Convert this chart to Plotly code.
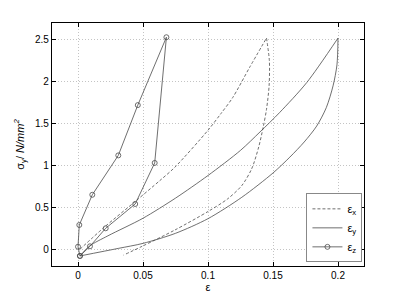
import plotly.graph_objects as go

# eps_x (dashed): loading then unloading
ex_load_x = [0.0015, 0.02, 0.044, 0.063, 0.0746, 0.1, 0.11, 0.119, 0.132, 0.145]
ex_load_s = [0.0, 0.26, 0.57, 0.82, 0.98, 1.42, 1.62, 1.81, 2.17, 2.52]
ex_unl_x = [0.145, 0.1472, 0.147, 0.145, 0.1425, 0.139, 0.1336, 0.126, 0.115, 0.1, 0.0746, 0.05, 0.035]
ex_unl_s = [2.52, 2.25, 1.95, 1.67, 1.46, 1.22, 0.96, 0.76, 0.6, 0.45, 0.23, 0.04, -0.07]

# eps_y (solid)
ey_load_x = [0.0015, 0.009, 0.023, 0.05, 0.075, 0.1, 0.125, 0.14, 0.155, 0.176, 0.2]
ey_load_s = [-0.08, 0.04, 0.16, 0.37, 0.61, 0.88, 1.18, 1.40, 1.63, 1.99, 2.52]
ey_unl_x = [0.2, 0.1992, 0.1962, 0.191, 0.1836, 0.174, 0.163, 0.15, 0.126, 0.1, 0.075, 0.05, 0.031, 0.0015]
ey_unl_s = [2.52, 2.2, 1.95, 1.69, 1.47, 1.28, 1.10, 0.91, 0.62, 0.365, 0.19, 0.07, 0.01, -0.08]

# eps_z (solid with circles)
ez_x = [0.0015, 0.0, 0.001, 0.011, 0.031, 0.046, 0.068, 0.059, 0.044, 0.0213, 0.0092, 0.0015]
ez_s = [-0.08, 0.03, 0.29, 0.65, 1.12, 1.72, 2.53, 1.03, 0.54, 0.25, 0.035, -0.08]

x_ticks = [0, 0.05, 0.1, 0.15, 0.2]
y_ticks = [0, 0.5, 1, 1.5, 2, 2.5]

col = "#4a4a4a"
fig = go.Figure()
fig.add_trace(go.Scatter(x=ex_load_x + [None] + ex_unl_x, y=ex_load_s + [None] + ex_unl_s, mode="lines",
                         line=dict(color=col, width=0.8, dash="3px,2px", shape="spline", smoothing=0.8),
                         connectgaps=False, name="ε<sub>x</sub>"))
fig.add_trace(go.Scatter(x=ey_load_x + [None] + ey_unl_x, y=ey_load_s + [None] + ey_unl_s, mode="lines",
                         line=dict(color=col, width=0.8, shape="spline", smoothing=0.8),
                         connectgaps=False, name="ε<sub>y</sub>"))
fig.add_trace(go.Scatter(x=ez_x, y=ez_s, mode="lines+markers",
                         line=dict(color=col, width=0.8),
                         marker=dict(symbol="circle-open", size=5, color=col, line=dict(width=0.8)),
                         name="ε<sub>z</sub>"))

axis_common = dict(showline=True, linecolor="black", linewidth=1.2, mirror="allticks",
                   ticks="inside", ticklen=4, tickcolor="black", showgrid=True,
                   gridcolor="#c4c4c4", griddash="1px,2px", gridwidth=1, zeroline=False,
                   automargin=False, tickfont=dict(size=10, color="black"))
fig.update_xaxes(range=[-0.02, 0.22], tickvals=x_ticks, ticktext=["0", "0.05", "0.1", "0.15", "0.2"],
                 title=dict(text="ε", font=dict(size=11), standoff=2), **axis_common)
fig.update_yaxes(range=[-0.2, 2.7], tickvals=y_ticks, ticktext=["0", "0.5", "1", "1.5", "2", "2.5"],
                 title=dict(text="σ<sub>y</sub>/ <i>N/mm<sup>2</sup></i>", font=dict(size=11), standoff=8),
                 **axis_common)
fig.update_layout(width=395, height=292, margin=dict(l=44, r=39, t=15, b=34),
                  paper_bgcolor="white", plot_bgcolor="white",
                  font=dict(family="Liberation Sans, Arial, sans-serif", size=10, color="black"),
                  legend=dict(x=0.995, y=0.015, xanchor="right", yanchor="bottom",
                              bgcolor="white", bordercolor="#888", borderwidth=1,
                              font=dict(size=11), itemwidth=30, tracegroupgap=0),
                  showlegend=True)
fig.write_html("out.html")
